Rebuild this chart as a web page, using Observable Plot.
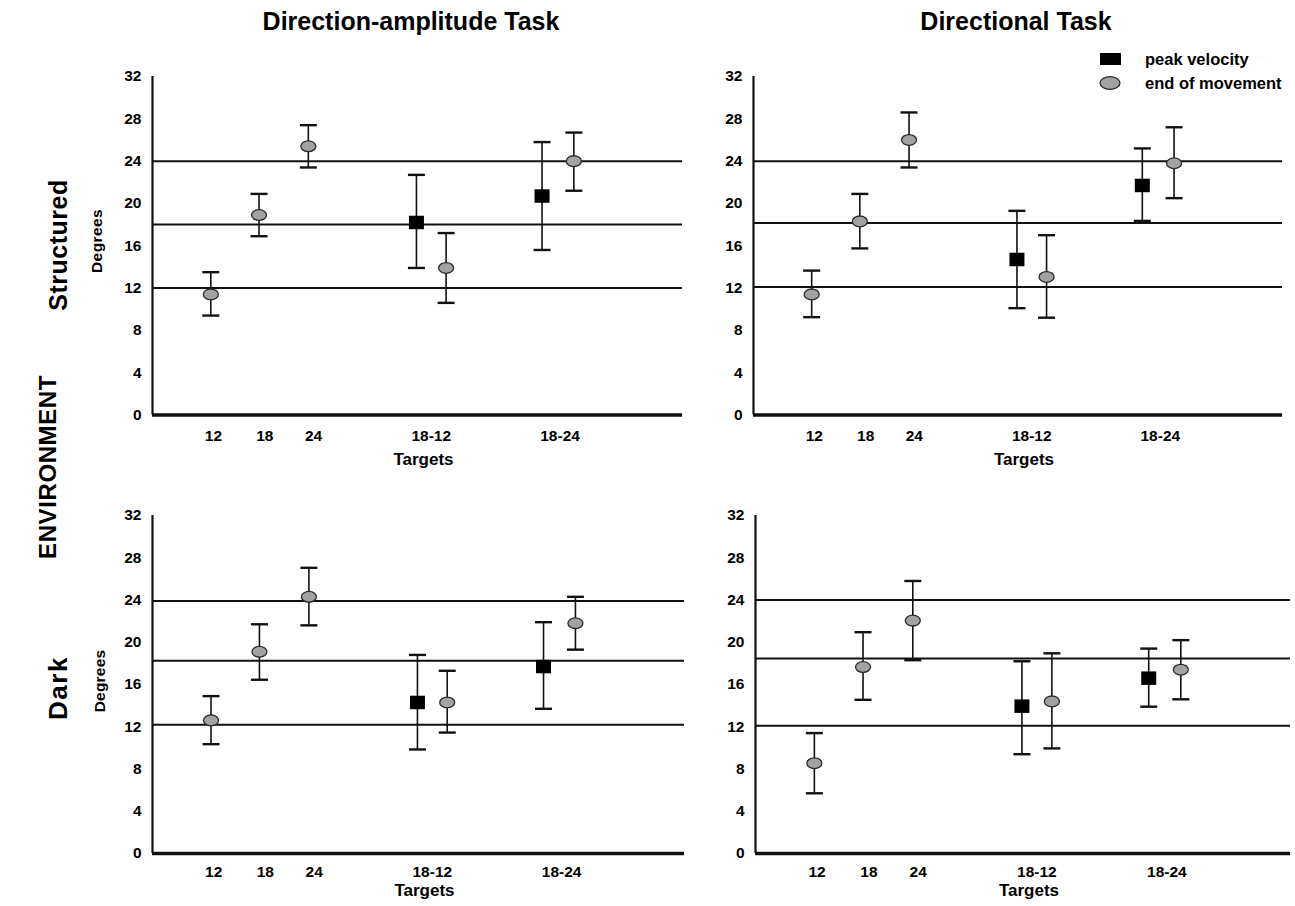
<!DOCTYPE html>
<html><head><meta charset="utf-8">
<script src="https://cdn.jsdelivr.net/npm/d3@7"></script>
<script src="https://cdn.jsdelivr.net/npm/@observablehq/plot@0.6"></script>
<style>
body{margin:0;background:#fff;}
#root{position:relative;width:1295px;height:906px;overflow:hidden;background:#fff;font-family:"Liberation Sans",Arial,Helvetica,sans-serif;}
#root svg{position:absolute;overflow:visible;}
</style></head><body><div id="root"></div>
<script>
// ---------------- data ----------------
const categories = ["12", "18", "24", "18-12", "18-24"];
const pairedCategories = ["18-12", "18-24"];
const seriesNames = ["peak velocity", "end of movement"];
const taskTitles = ["Direction-amplitude Task", "Directional Task"];
const environmentNames = ["Structured", "Dark"];
const yTicks = [0, 4, 8, 12, 16, 20, 24, 28, 32];

// Structured / Direction-amplitude
const saEnd   = [11.4, 18.9, 25.4, 13.9, 24.0];
const saEndLo = [9.4, 16.9, 23.4, 10.6, 21.2];
const saEndHi = [13.5, 20.9, 27.4, 17.2, 26.7];
const saPeak   = [18.2, 20.7];
const saPeakLo = [13.9, 15.6];
const saPeakHi = [22.7, 25.8];
const saTargets = [12, 18, 24];

// Structured / Directional
const sdEnd   = [11.4, 18.3, 26.0, 13.05, 23.8];
const sdEndLo = [9.25, 15.75, 23.4, 9.2, 20.5];
const sdEndHi = [13.65, 20.9, 28.6, 17.0, 27.2];
const sdPeak   = [14.7, 21.7];
const sdPeakLo = [10.1, 18.35];
const sdPeakHi = [19.3, 25.2];
const sdTargets = [12.1, 18.15, 24];

// Dark / Direction-amplitude
const daEnd   = [12.6, 19.1, 24.3, 14.3, 21.8];
const daEndLo = [10.35, 16.45, 21.6, 11.45, 19.3];
const daEndHi = [14.9, 21.7, 27.05, 17.3, 24.3];
const daPeak   = [14.3, 17.7];
const daPeakLo = [9.85, 13.7];
const daPeakHi = [18.8, 21.9];
const daTargets = [12.2, 18.25, 23.9];

// Dark / Directional
const ddEnd   = [8.55, 17.65, 22.05, 14.4, 17.4];
const ddEndLo = [5.7, 14.55, 18.3, 9.95, 14.6];
const ddEndHi = [11.4, 20.95, 25.8, 18.95, 20.2];
const ddPeak   = [13.95, 16.6];
const ddPeakLo = [9.4, 13.9];
const ddPeakHi = [18.2, 19.4];
const ddTargets = [12.1, 18.45, 24];

// ---------------- layout ----------------
const slotEnd = {"12": 11.0, "18": 20.1, "24": 29.4, "18-12": 55.4, "18-24": 79.5};
const slotPeak = {"18-12": 49.8, "18-24": 73.5};
const slotLabel = {"12": 11.5, "18": 21.2, "24": 30.4, "18-12": 52.6, "18-24": 76.9};
const labelByPos = new Map(categories.map(c => [slotLabel[c], c]));
const FONT = '"Liberation Sans", Arial, Helvetica, sans-serif';
const root = document.getElementById("root");

// custom symbols
const capSym = {draw(ctx, size) { const r = Math.sqrt(size / Math.PI); ctx.moveTo(-r, 0); ctx.lineTo(r, 0); }};
const rectSym = {draw(ctx, size) { const r = Math.sqrt(size / Math.PI); const w = r, h = r * 0.9; ctx.moveTo(-w, -h); ctx.lineTo(w, -h); ctx.lineTo(w, h); ctx.lineTo(-w, h); ctx.closePath(); }};
const ellSym = {draw(ctx, size) {
  const r = Math.sqrt(size / Math.PI); const rx = r, ry = r * 0.72, k = 0.5523;
  ctx.moveTo(rx, 0);
  ctx.bezierCurveTo(rx, k * ry, k * rx, ry, 0, ry);
  ctx.bezierCurveTo(-k * rx, ry, -rx, k * ry, -rx, 0);
  ctx.bezierCurveTo(-rx, -k * ry, -k * rx, -ry, 0, -ry);
  ctx.bezierCurveTo(k * rx, -ry, rx, -k * ry, rx, 0);
  ctx.closePath();
}};

function panel(cfg) {
  const {left, right, y0, y32, end, endLo, endHi, peak, peakLo, peakHi, refs, targetsDy, tickPad} = cfg;
  const mL = 70, mR = 14, mT = 12, mB = 70;
  const W = right - left + mL + mR, H = y0 - y32 + mT + mB;
  const endRows = categories.map((c, i) => ({pos: slotEnd[c], v: end[i], lo: endLo[i], hi: endHi[i]}));
  const peakRows = pairedCategories.map((c, i) => ({pos: slotPeak[c], v: peak[i], lo: peakLo[i], hi: peakHi[i]}));
  const bars = [...peakRows, ...endRows];
  const chart = Plot.plot({
    width: W, height: H,
    marginLeft: mL, marginRight: mR, marginTop: mT, marginBottom: mB,
    x: {domain: [0, 100]},
    y: {domain: [0, 32]},
    style: {fontFamily: FONT, fontSize: "15px", fontWeight: "bold", color: "#000", background: "transparent"},
    marks: [
      Plot.ruleY(refs, {stroke: "#111", strokeWidth: 2}),
      Plot.ruleX(bars, {x: "pos", y1: "lo", y2: "hi", stroke: "#111", strokeWidth: 1.6}),
      Plot.dot(bars, {x: "pos", y: "lo", symbol: capSym, r: 8.5, stroke: "#111", strokeWidth: 2.4, fill: "none"}),
      Plot.dot(bars, {x: "pos", y: "hi", symbol: capSym, r: 8.5, stroke: "#111", strokeWidth: 2.4, fill: "none"}),
      Plot.dot(peakRows, {x: "pos", y: "v", symbol: rectSym, r: 7.5, fill: "#000", stroke: "none"}),
      Plot.dot(endRows, {x: "pos", y: "v", symbol: ellSym, r: 7.5, fill: "#a2a2a2", stroke: "#2a2a2a", strokeWidth: 1.3}),
      Plot.ruleX([0], {stroke: "#111", strokeWidth: 2.2}),
      Plot.ruleY([0], {stroke: "#111", strokeWidth: 3.5}),
      Plot.axisY({ticks: yTicks, tickSize: 0, tickPadding: 11, label: null, tickFormat: d => String(d), fontSize: 15.5, fontWeight: "bold"}),
      Plot.axisX({ticks: categories.map(c => slotLabel[c]), tickSize: 0, tickPadding: tickPad, label: null, tickFormat: d => labelByPos.get(d), fontSize: 15.5, fontWeight: "bold"}),
      Plot.text(["Targets"], {frameAnchor: "bottom", dy: targetsDy, dx: 6, fontSize: 17, fontWeight: "bold"})
    ]
  });
  chart.style.left = (left - mL) + "px";
  chart.style.top = (y32 - mT) + "px";
  root.append(chart);
}

panel({left: 152, right: 682, y0: 414, y32: 75.5, end: saEnd, endLo: saEndLo, endHi: saEndHi, peak: saPeak, peakLo: saPeakLo, peakHi: saPeakHi, refs: saTargets, targetsDy: 50, tickPad: 15});
panel({left: 753, right: 1282, y0: 414, y32: 75.5, end: sdEnd, endLo: sdEndLo, endHi: sdEndHi, peak: sdPeak, peakLo: sdPeakLo, peakHi: sdPeakHi, refs: sdTargets, targetsDy: 50, tickPad: 15});
panel({left: 152, right: 684, y0: 853, y32: 515, end: daEnd, endLo: daEndLo, endHi: daEndHi, peak: daPeak, peakLo: daPeakLo, peakHi: daPeakHi, refs: daTargets, targetsDy: 42, tickPad: 12});
panel({left: 755, right: 1290, y0: 853, y32: 515, end: ddEnd, endLo: ddEndLo, endHi: ddEndHi, peak: ddPeak, peakLo: ddPeakLo, peakHi: ddPeakHi, refs: ddTargets, targetsDy: 42, tickPad: 12});

// ---------------- overlay text & legend ----------------
const ov = d3.create("svg").attr("width", 1295).attr("height", 906)
  .style("left", "0px").style("top", "0px")
  .attr("font-family", FONT).attr("font-weight", "bold").attr("fill", "#000");
ov.append("text").attr("x", 411).attr("y", 30).attr("text-anchor", "middle")
  .attr("font-size", 25).text(taskTitles[0]);
ov.append("text").attr("x", 1016).attr("y", 30).attr("text-anchor", "middle")
  .attr("font-size", 25).text(taskTitles[1]);
function vtext(x, y, size, ls, str) {
  ov.append("text").attr("transform", `translate(${x},${y}) rotate(-90)`).attr("text-anchor", "middle")
    .attr("font-size", size).attr("letter-spacing", ls).text(str);
}
vtext(56, 467, 24, 0.6, "ENVIRONMENT");
vtext(67, 245, 25, 0.5, environmentNames[0]);
vtext(67, 688, 26, 1.5, environmentNames[1]);
vtext(102, 241, 15.5, 0.4, "Degrees");
vtext(105, 681, 15.5, 0.2, "Degrees");
// legend
ov.append("rect").attr("x", 1100).attr("y", 53).attr("width", 21).attr("height", 12).attr("fill", "#000");
ov.append("ellipse").attr("cx", 1110).attr("cy", 83).attr("rx", 10).attr("ry", 6.3)
  .attr("fill", "#a2a2a2").attr("stroke", "#2a2a2a").attr("stroke-width", 1.3);
ov.append("text").attr("x", 1145).attr("y", 59).attr("dy", "0.35em").attr("font-size", 16.5).text(seriesNames[0]);
ov.append("text").attr("x", 1145).attr("y", 83).attr("dy", "0.35em").attr("font-size", 16.5).text(seriesNames[1]);
root.prepend(ov.node());
</script>
</body></html>
